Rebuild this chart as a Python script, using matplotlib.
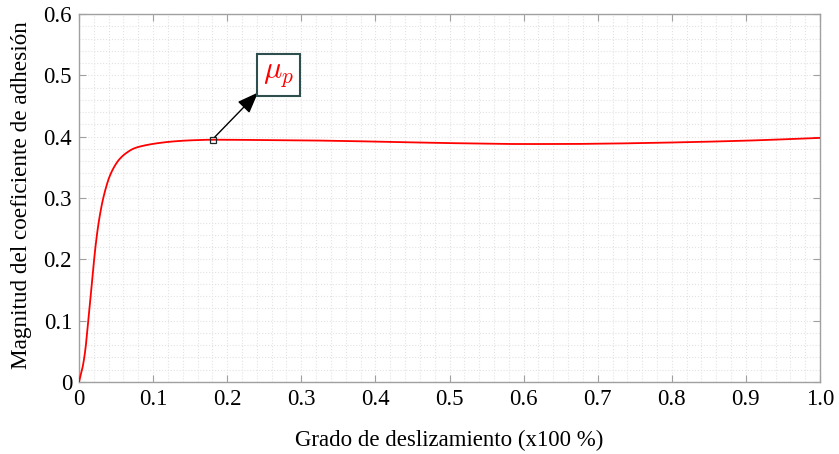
import numpy as np
import matplotlib
matplotlib.use("Agg")
import matplotlib.pyplot as plt
from matplotlib.ticker import MultipleLocator

# data
slip = [0.0, 0.005, 0.0085, 0.0117, 0.0148, 0.0185, 0.022, 0.0252, 0.0283, 0.032,
        0.0364, 0.0409, 0.0476, 0.0544, 0.0634, 0.0746, 0.086, 0.104, 0.125, 0.15,
        0.18, 0.25, 0.3, 0.4, 0.5, 0.6, 0.65, 0.7, 0.8, 0.9, 1.0]
mu = [0.0, 0.025, 0.052, 0.090, 0.128, 0.176, 0.218, 0.249, 0.273, 0.296,
      0.317, 0.334, 0.351, 0.363, 0.373, 0.381, 0.385, 0.389, 0.392, 0.394,
      0.395, 0.3945, 0.394, 0.392, 0.3895, 0.388, 0.388, 0.3885, 0.3905, 0.3935, 0.398]
peak_x = 0.1804
peak_y = 0.3946

plt.rcParams['font.family'] = ['Liberation Serif', 'DejaVu Serif']
plt.rcParams['mathtext.fontset'] = 'cm'

fig = plt.figure(figsize=(8.39, 4.54), dpi=100)
ax = fig.add_axes([79/839, 1-382/454, 741/839, 368/454])

xs = np.array(slip); ys = np.array(mu)
xf = np.linspace(0, 1, 3000)
def pchip(x, y, xn):
    h = np.diff(x); d = np.diff(y)/h
    m = np.zeros_like(y)
    for i in range(1, len(y)-1):
        if d[i-1]*d[i] > 0:
            w1 = 2*h[i]+h[i-1]; w2 = h[i]+2*h[i-1]
            m[i] = (w1+w2)/(w1/d[i-1]+w2/d[i])
    m[0] = d[0]; m[-1] = d[-1]
    idx = np.clip(np.searchsorted(x, xn)-1, 0, len(x)-2)
    t = (xn - x[idx])/h[idx]
    h00 = 2*t**3-3*t**2+1; h10 = t**3-2*t**2+t; h01 = -2*t**3+3*t**2; h11 = t**3-t**2
    return h00*y[idx]+h10*h[idx]*m[idx]+h01*y[idx+1]+h11*h[idx]*m[idx+1]
yf = pchip(xs, ys, xf)
ax.plot(xf, yf, color='#ff0000', lw=1.3, zorder=3)

ax.plot([peak_x], [peak_y], marker='s', ms=5, mfc='none', mec='#1a2a2a', mew=0.9, zorder=4)
ax.annotate('', xy=(0.2416, 0.472), xytext=(peak_x + 0.003, peak_y + 0.005),
            arrowprops=dict(arrowstyle='-|>,head_length=1.3,head_width=0.5', color='black', lw=1.0,
                            shrinkA=0, shrinkB=0), zorder=5)
ax.text(0.2692, 0.5006, r'$\mu_p$', color='#ff0000', fontsize=22, ha='center', va='center',
        bbox=dict(boxstyle='square,pad=0.2', fc='white', ec='#2f4f4f', lw=1.5), zorder=6)

ax.set_xlim(0, 1)
ax.set_ylim(0, 0.6)
ax.xaxis.set_minor_locator(MultipleLocator(0.02))
ax.yaxis.set_minor_locator(MultipleLocator(0.02))
ax.set_xticks(np.arange(0, 1.01, 0.1))
ax.set_xticklabels(['0'] + ['%.1f' % v for v in np.arange(0.1, 1.01, 0.1)])
ax.set_yticks(np.arange(0, 0.61, 0.1))
ax.set_yticklabels(['0'] + ['%.1f' % v for v in np.arange(0.1, 0.61, 0.1)])
ax.grid(which='both', color='#e3e3e3', ls=':', lw=0.8)
ax.tick_params(which='major', direction='in', top=True, right=True, length=5,
               color='#a0a0a0', labelsize=16.5, pad=5)
ax.tick_params(which='minor', length=0)
for s in ax.spines.values():
    s.set_color('#a0a0a0')
    s.set_linewidth(1.0)
ax.set_xlabel('Grado de deslizamiento (x100 %)', fontsize=16.5, labelpad=14)
ax.set_ylabel('Magnitud del coeficiente de adhesión', fontsize=16.7)
ax.yaxis.set_label_coords(-0.064, 0.508)

fig.savefig('out.png', dpi=100)
